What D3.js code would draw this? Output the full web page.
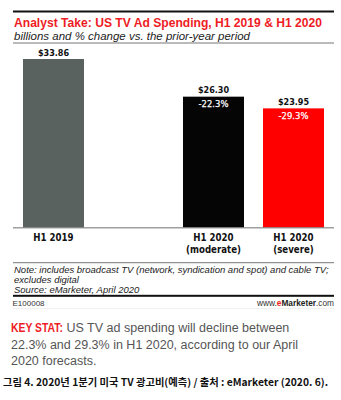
<!DOCTYPE html>
<html><head><meta charset="utf-8">
<script src="https://cdn.jsdelivr.net/npm/d3@7"></script>
<style>body{margin:0;background:#fff}svg{display:block}</style>
</head><body>
<script>
const categories = ["H1 2019", "H1 2020|(moderate)", "H1 2020|(severe)"];
const values = [33.86, 26.30, 23.95];
const valueLabels = ["$33.86", "$26.30", "$23.95"];
const changeLabels = ["", "-22.3%", "-29.3%"];
const colors = ["#59625f", "#050505", "#fe0000"];

const W = 341, H = 400;
const svg = d3.select("body").append("svg").attr("width", W).attr("height", H);
const L = 13, R = 334;

svg.append("rect").attr("x", L).attr("y", 10.5).attr("width", R - L).attr("height", 2).attr("fill", "#111");
svg.append("text").attr("x", 14).attr("y", 27).attr("fill", "#ee1c25")
  .attr("font-family", "Liberation Sans, Arial").attr("font-weight", "bold").attr("font-size", 12.3)
  .attr("textLength", 308).attr("lengthAdjust", "spacingAndGlyphs")
  .text("Analyst Take: US TV Ad Spending, H1 2019 & H1 2020");
svg.append("text").attr("x", 14).attr("y", 39.5).attr("fill", "#222")
  .attr("font-family", "Liberation Sans, Arial").attr("font-style", "italic").attr("font-size", 11.4)
  .attr("textLength", 236).attr("lengthAdjust", "spacingAndGlyphs")
  .text("billions and % change vs. the prior-year period");
svg.append("rect").attr("x", L).attr("y", 42.5).attr("width", R - L).attr("height", 1).attr("fill", "#777");

const y = d3.scaleLinear().domain([0, 33.86]).range([227.7, 59]);
const x = d3.scaleOrdinal().domain(categories).range([23, 183, 263]);
const bw = 61;

const g = svg.append("g");
g.selectAll("rect.bar").data(values).join("rect").attr("class", "bar")
  .attr("x", (d, i) => x(categories[i])).attr("y", d => y(d))
  .attr("width", bw).attr("height", d => y(0) - y(d)).attr("fill", (d, i) => colors[i]);

g.selectAll("text.val").data(values).join("text").attr("class", "val")
  .attr("x", (d, i) => x(categories[i]) + bw / 2).attr("y", d => y(d) - 3.5)
  .attr("text-anchor", "middle").attr("font-family", "DejaVu Sans Condensed, DejaVu Sans")
  .attr("font-weight", "bold").attr("font-size", 9).attr("fill", "#111")
  .text((d, i) => valueLabels[i]);

g.selectAll("text.chg").data(values).join("text").attr("class", "chg")
  .attr("x", (d, i) => x(categories[i]) + bw / 2).attr("y", d => y(d) + 10.5)
  .attr("text-anchor", "middle").attr("font-family", "DejaVu Sans Condensed, DejaVu Sans")
  .attr("font-size", 9.4).attr("fill", "#fff").attr("stroke", "#fff").attr("stroke-width", 0.25)
  .text((d, i) => changeLabels[i]);

svg.append("rect").attr("x", L).attr("y", 227.2).attr("width", R - L).attr("height", 1.2).attr("fill", "#888");

categories.forEach((c, i) => {
  c.split("|").forEach((line, j) => {
    svg.append("text").attr("x", x(c) + bw / 2).attr("y", 240.5 + j * 12)
      .attr("text-anchor", "middle").attr("font-family", "DejaVu Sans Condensed, DejaVu Sans")
      .attr("font-weight", "bold").attr("font-size", 9.6).attr("fill", "#111").text(line);
  });
});

svg.append("rect").attr("x", L).attr("y", 262.2).attr("width", R - L).attr("height", 1).attr("fill", "#777");
const notes = ["Note: includes broadcast TV (network, syndication and spot) and cable TV;",
  "excludes digital", "Source: eMarketer, April 2020"];
notes.forEach((t, i) => {
  svg.append("text").attr("x", 14).attr("y", 273 + i * 10).attr("font-family", "Liberation Sans, Arial")
    .attr("font-style", "italic").attr("font-size", 9.5).attr("fill", "#222").text(t);
});
svg.append("rect").attr("x", L).attr("y", 294.8).attr("width", R - L).attr("height", 2).attr("fill", "#111");
svg.append("text").attr("x", 12.5).attr("y", 306).attr("font-family", "Liberation Sans, Arial")
  .attr("font-size", 8).attr("fill", "#333").text("E100008");
const wt = svg.append("text").attr("x", 334).attr("y", 306).attr("text-anchor", "end")
  .attr("font-family", "Liberation Sans, Arial").attr("font-size", 8.3).attr("fill", "#333");
wt.append("tspan").text("www.");
wt.append("tspan").attr("fill", "#ee1c25").attr("font-weight", "bold").text("e");
wt.append("tspan").attr("font-weight", "bold").attr("fill", "#222").text("Marketer");
wt.append("tspan").text(".com");
svg.append("rect").attr("x", L).attr("y", 308.5).attr("width", R - L).attr("height", 0.6).attr("fill", "#e4e4e4");

const ks = ["US TV ad spending will decline between", "22.3% and 29.3% in H1 2020, according to our April", "2020 forecasts."];
const kt = svg.append("text").attr("x", 0).attr("y", 0)
  .attr("font-family", "Liberation Sans, Arial").attr("font-size", 12.8)
  .attr("fill", "#ee1c25").attr("font-weight", "bold").text("KEY STAT:");
const kw = kt.node().getComputedTextLength();
kt.attr("transform", `translate(11,332) scale(${52 / kw},1)`);
ks.forEach((t, i) => {
  svg.append("text").attr("x", i === 0 ? 66.5 : 11).attr("y", 332 + i * 16.5)
    .attr("font-family", "Liberation Sans, Arial").attr("font-size", 12.5).attr("fill", "#555").text(t);
});
svg.append("text").attr("x", 3).attr("y", 385.5).attr("font-family", "Noto Sans CJK KR")
  .attr("font-weight", "bold").attr("font-size", 10).attr("fill", "#111")
  .attr("textLength", 325).attr("lengthAdjust", "spacingAndGlyphs")
  .text("그림 4. 2020년 1분기 미국 TV 광고비(예측) / 출처 : eMarketer (2020. 6).");
</script>
</body></html>
